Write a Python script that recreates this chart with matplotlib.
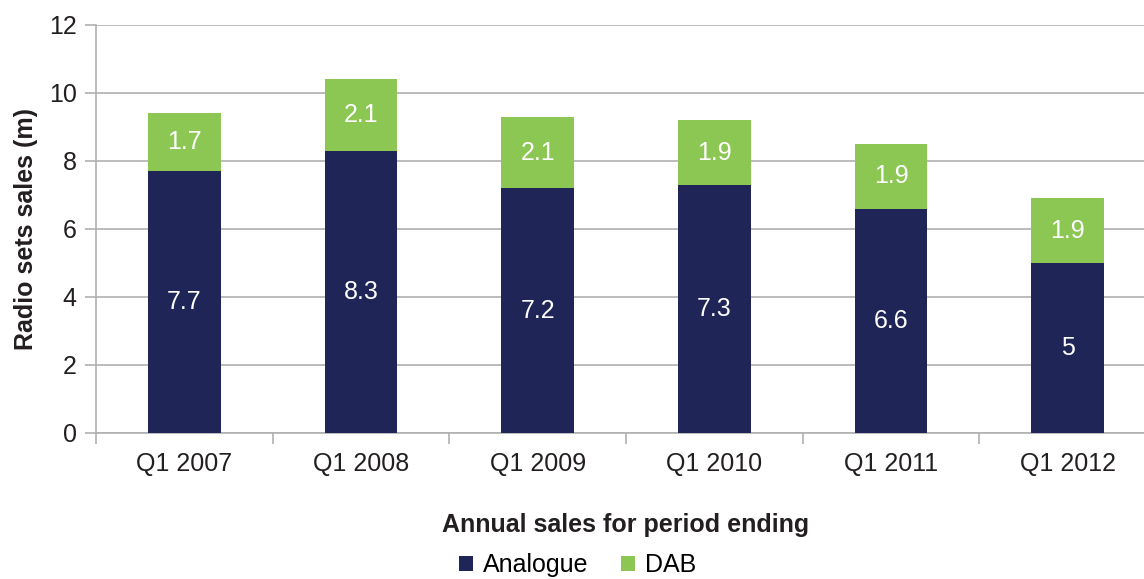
import numpy as np
import matplotlib.pyplot as plt

plt.rcParams['font.family'] = ['Liberation Sans', 'DejaVu Sans']

periods = ['Q1 2007', 'Q1 2008', 'Q1 2009', 'Q1 2010', 'Q1 2011', 'Q1 2012']
analogue = [7.7, 8.3, 7.2, 7.3, 6.6, 5.0]
dab = [1.7, 2.1, 2.1, 1.9, 1.9, 1.9]
yticks = [0, 2, 4, 6, 8, 10, 12]

navy = '#1f2557'
green = '#8dc753'
grey = '#b0b0b0'


def fmt(v):
    return ('%g' % v)


def main():
    fig = plt.figure(figsize=(11.44, 5.79), dpi=100)
    ax = fig.add_axes([96 / 1144, 146 / 579, 1060 / 1144, 408 / 579])

    x = np.arange(len(periods))
    w = 0.41
    b1 = ax.bar(x, analogue, w, color=navy, label='Analogue', zorder=3)
    b2 = ax.bar(x, dab, w, bottom=analogue, color=green, label='DAB', zorder=3)

    for i in range(len(periods)):
        ax.text(x[i], analogue[i] / 2, fmt(analogue[i]), ha='center', va='center',
                color='white', fontsize=18, zorder=4)
        ax.text(x[i], analogue[i] + dab[i] / 2, fmt(dab[i]), ha='center', va='center',
                color='white', fontsize=18, zorder=4)

    ax.set_xlim(-0.5, len(periods) - 0.5)
    ax.set_ylim(0, 12)
    ax.set_yticks(yticks)
    ax.set_yticklabels([str(t) for t in yticks], fontsize=18, color='#231f20')
    ax.yaxis.grid(True, color=grey, linewidth=1.2, zorder=0)

    ax.set_xticks(x)
    ax.set_xticklabels(periods, fontsize=18, color='#231f20')
    ax.set_xticks(np.arange(-0.5, len(periods)), minor=True)
    ax.tick_params(axis='x', which='major', length=0, pad=14)
    ax.tick_params(axis='x', which='minor', length=8, color=grey, width=1.2)
    ax.tick_params(axis='y', length=8, color=grey, width=1.2, pad=6)

    for s in ['top', 'right']:
        ax.spines[s].set_visible(False)
    for s in ['left', 'bottom']:
        ax.spines[s].set_color(grey)
        ax.spines[s].set_linewidth(1.2)

    ax.set_ylabel('Radio sets sales (m)', fontsize=18, fontweight='bold', color='#231f20', labelpad=8)
    ax.set_xlabel('Annual sales for period ending', fontsize=18, fontweight='bold', color='#231f20', labelpad=26)

    fig.legend(handles=[b1, b2], loc='lower center', bbox_to_anchor=(0.505, -0.036), ncol=2,
               frameon=False, fontsize=18, handlelength=0.55, handleheight=0.55,
               handletextpad=0.4, columnspacing=1.3)

    fig.savefig('out.png', dpi=100)


main()
